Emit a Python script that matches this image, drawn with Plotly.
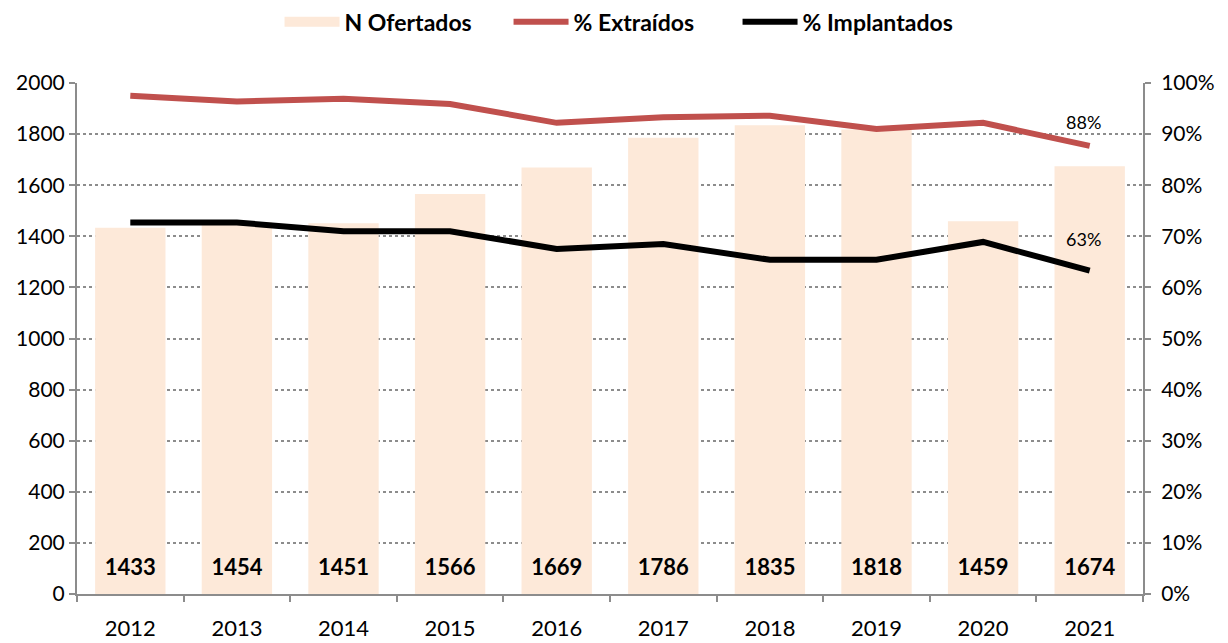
import plotly.graph_objects as go

years = [2012, 2013, 2014, 2015, 2016, 2017, 2018, 2019, 2020, 2021]
n_ofertados = [1433, 1454, 1451, 1566, 1669, 1786, 1835, 1818, 1459, 1674]
pct_extraidos = [97.5, 96.4, 96.9, 95.9, 92.2, 93.3, 93.6, 91.0, 92.2, 87.7]
pct_implantados = [72.7, 72.7, 71.0, 71.0, 67.5, 68.5, 65.4, 65.4, 68.9, 63.3]

FONT = "Lato, Carlito, Calibri, 'Open Sans', sans-serif"
BAR_COLOR = "#FDE9D9"
fig = go.Figure()
fig.add_trace(go.Bar(x=years, y=n_ofertados, name="N Ofertados", marker=dict(color=BAR_COLOR, line=dict(width=0)),
                     hoverinfo="y", showlegend=False, legendgroup="n"))
# legend entry with a wide rectangular swatch
fig.add_trace(go.Scatter(x=[None], y=[None], mode="lines", name="N Ofertados", legendgroup="n",
                         line=dict(color=BAR_COLOR, width=16)))
# bar labels near base
fig.add_trace(go.Scatter(x=years, y=[95] * len(years), mode="text", text=[f"<b>{v}</b>" for v in n_ofertados],
                         textfont=dict(size=22, color="black", family=FONT), showlegend=False, hoverinfo="skip"))
fig.add_trace(go.Scatter(x=years, y=pct_extraidos, name="% Extraídos", mode="lines", yaxis="y2",
                         line=dict(color="#C0504D", width=6)))
fig.add_trace(go.Scatter(x=years, y=pct_implantados, name="% Implantados", mode="lines", yaxis="y2",
                         line=dict(color="black", width=6)))

fig.add_annotation(x=years[-1], y=pct_extraidos[-1], yref="y2", text=f"{round(pct_extraidos[-1])}%",
                   showarrow=False, yshift=24, xshift=-6, font=dict(size=18, family=FONT, color="black"))
fig.add_annotation(x=years[-1], y=pct_implantados[-1], yref="y2", text=f"{round(pct_implantados[-1])}%",
                   showarrow=False, yshift=32, xshift=-6, font=dict(size=18, family=FONT, color="black"))

fig.update_layout(
    width=1228, height=643,
    margin=dict(l=69, r=93, t=75, b=57, autoexpand=False),
    paper_bgcolor="white", plot_bgcolor="white",
    font=dict(family=FONT, size=21, color="black"),
    bargap=0.34,
    showlegend=True,
    legend=dict(orientation="h", x=0.19, xanchor="left", y=1.12, yanchor="middle",
                font=dict(size=23, family=FONT, color="black", weight="bold"),
                itemwidth=55, entrywidth=159, entrywidthmode="pixels", traceorder="normal"),
    xaxis=dict(type="linear", range=[years[0] - 0.5, years[-1] + 0.5], tickmode="array", tickvals=years,
               ticktext=[str(y) for y in years], showline=True, linecolor="#8C8C8C", linewidth=2,
               ticks="", showgrid=False, zeroline=False, tickfont=dict(size=22), ticklabelstandoff=14,
               minor=dict(ticks="outside", tick0=years[0] - 0.5, dtick=1, ticklen=6,
                          tickcolor="#8C8C8C", tickwidth=2, showgrid=False)),
    yaxis=dict(range=[0, 2000], dtick=200, showline=True, linecolor="#8C8C8C", linewidth=2,
               ticks="outside", ticklen=6, tickcolor="#8C8C8C", tickwidth=2,
               showgrid=True, gridcolor="#8C8C8C", griddash="dot", gridwidth=1.5,
               zeroline=False, tickfont=dict(size=21)),
    yaxis2=dict(range=[0, 100], dtick=10, overlaying="y", side="right", showline=True,
                linecolor="#8C8C8C", linewidth=2, ticks="outside", ticklen=6, tickcolor="#8C8C8C",
                tickwidth=2, ticksuffix="%", showgrid=False, zeroline=False, tickfont=dict(size=21),
                ticklabelstandoff=6),
)
fig.write_html("out.html")
